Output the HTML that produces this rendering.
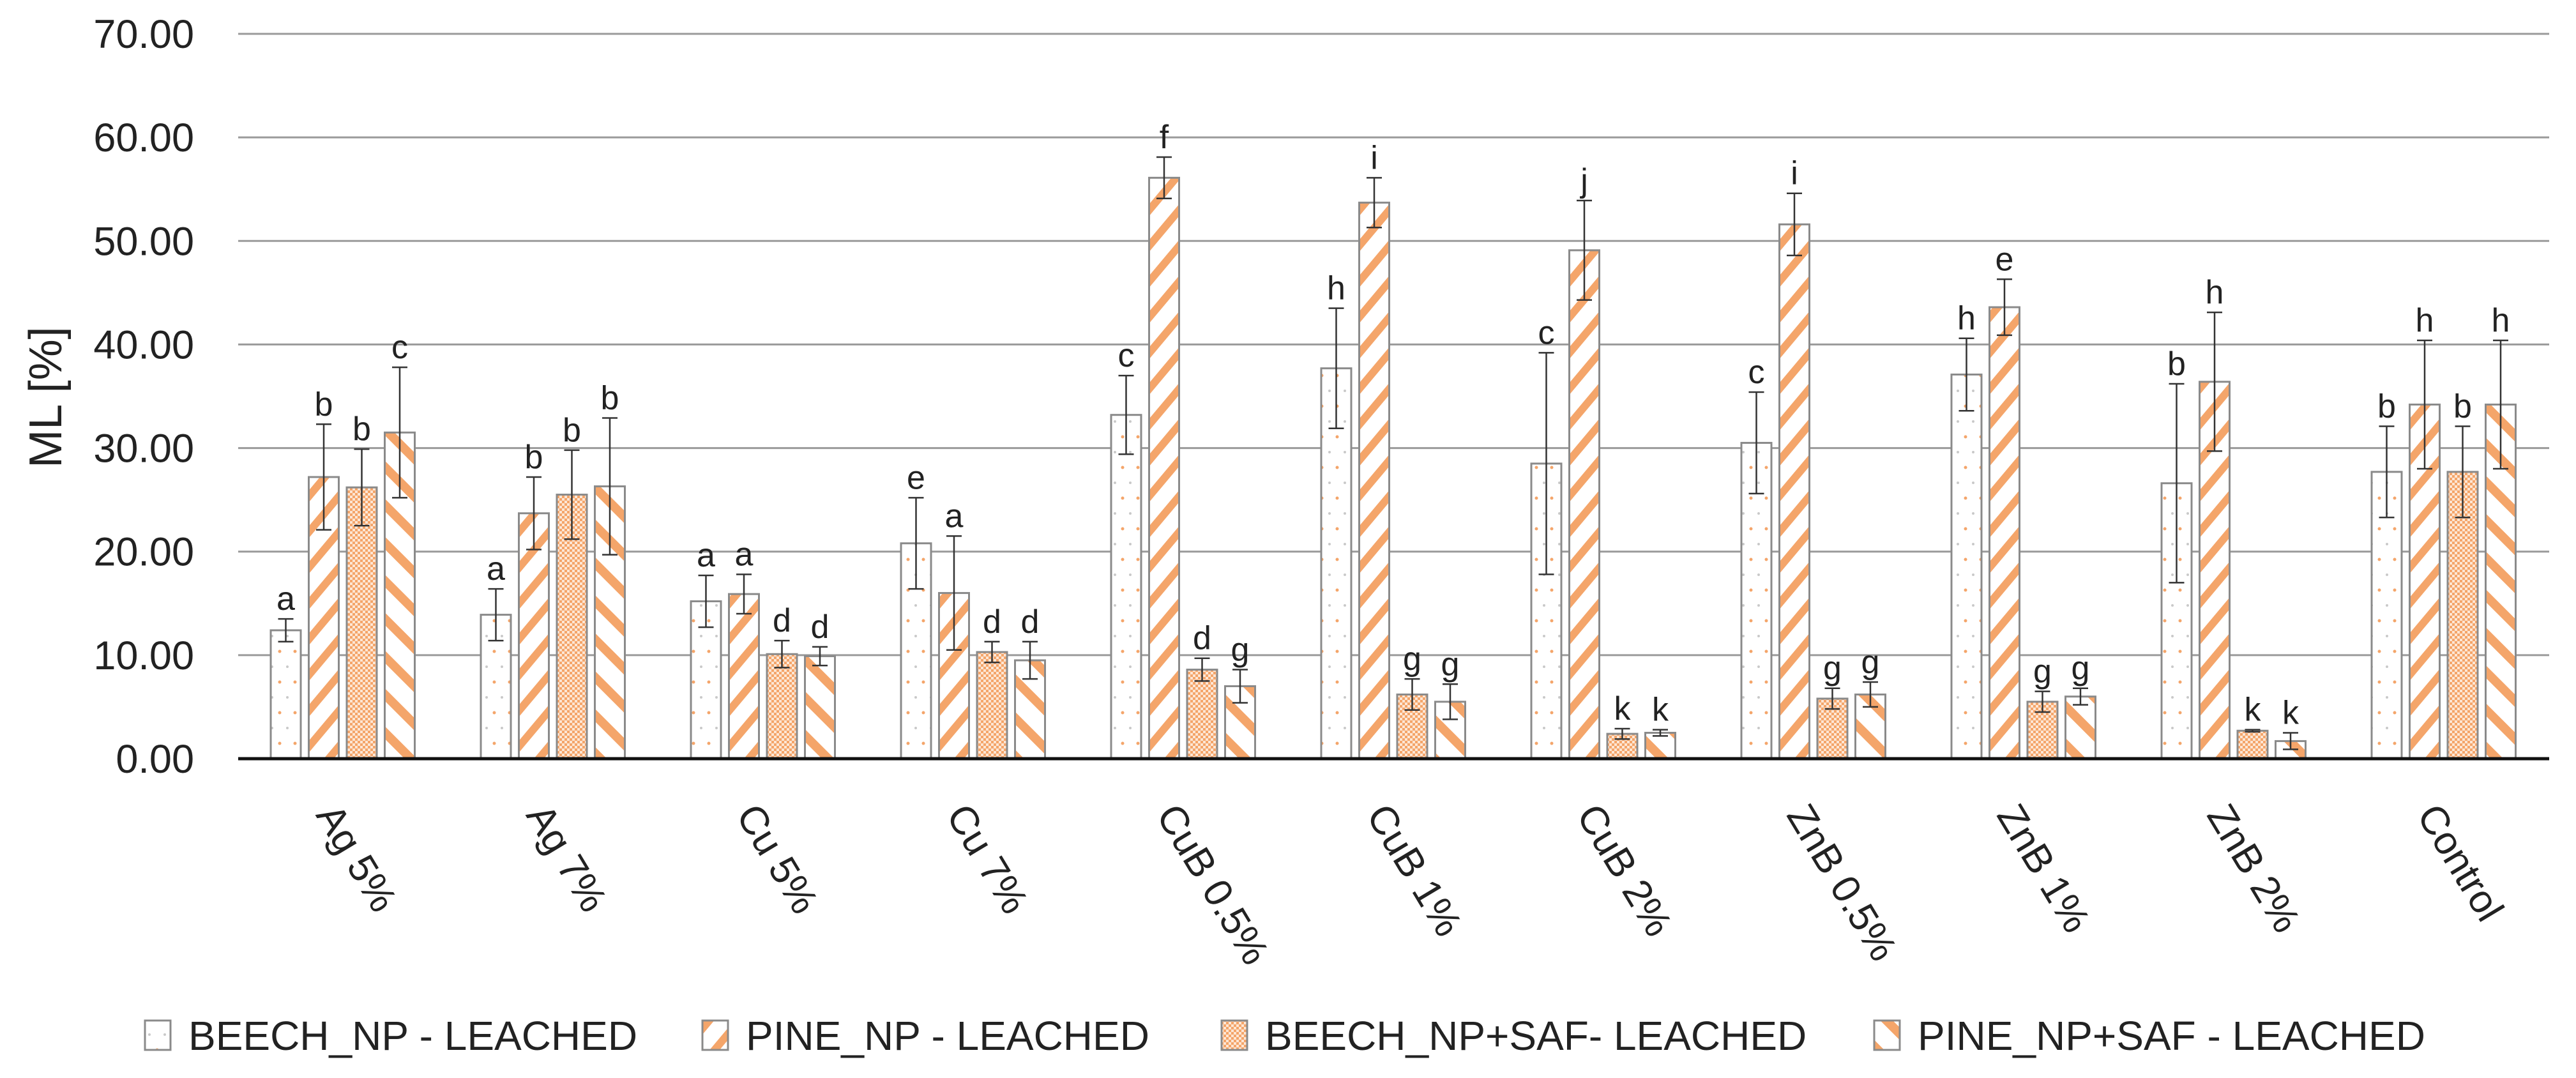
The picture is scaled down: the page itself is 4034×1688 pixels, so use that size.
<!DOCTYPE html>
<html><head><meta charset="utf-8">
<style>
html,body{margin:0;padding:0;background:#fff;}
svg{display:block;font-family:"Liberation Sans",sans-serif;}
</style></head>
<body>
<svg id="chart" xmlns="http://www.w3.org/2000/svg" width="4034" height="1688" viewBox="0 0 4034 1688">
<defs>
 <pattern id="p-dots" patternUnits="userSpaceOnUse" width="24" height="48">
  <rect width="24" height="48" fill="#fff"/>
  <circle cx="6" cy="12" r="2.5" fill="#f4a56a"/>
  <circle cx="18" cy="36" r="2" fill="#c9c9c9"/>
 </pattern>
 <pattern id="p-fwd" patternUnits="userSpaceOnUse" width="36" height="36" patternTransform="rotate(-50)">
  <rect width="36" height="36" fill="#fff"/>
  <rect width="36" height="12" fill="#f4a56a"/>
 </pattern>
 <pattern id="p-check" patternUnits="userSpaceOnUse" width="8" height="8">
  <rect width="8" height="8" fill="#fde6d4"/>
  <rect width="4" height="4" fill="#f4a56a"/>
  <rect x="4" y="4" width="4" height="4" fill="#f4a56a"/>
 </pattern>
 <pattern id="p-back" patternUnits="userSpaceOnUse" width="42" height="42" patternTransform="rotate(45)">
  <rect width="42" height="42" fill="#fff"/>
  <rect width="42" height="14" fill="#f4a56a"/>
 </pattern>
</defs>
<g id="grid"></g>
<g id="bars"></g>
<g id="xlabels"></g>
<text x="0" y="0" transform="translate(96,622) rotate(-90)" text-anchor="middle" font-size="72" fill="#222">ML [%]</text>
<g id="legend"></g>
</svg>
<script>
const categories = ["Ag 5%","Ag 7%","Cu 5%","Cu 7%","CuB 0.5%","CuB 1%","CuB 2%","ZnB 0.5%","ZnB 1%","ZnB 2%","Control"];
const seriesNames = ["BEECH_NP - LEACHED","PINE_NP - LEACHED","BEECH_NP+SAF- LEACHED","PINE_NP+SAF - LEACHED"];
const beechNP = [12.4,13.9,15.2,20.8,33.2,37.7,28.5,30.5,37.1,26.6,27.7];
const pineNP = [27.2,23.7,15.9,16.0,56.1,53.7,49.1,51.6,43.6,36.4,34.2];
const beechSAF = [26.2,25.5,10.1,10.3,8.6,6.2,2.4,5.8,5.5,2.7,27.7];
const pineSAF = [31.5,26.3,9.9,9.5,7.0,5.5,2.5,6.2,6.0,1.7,34.2];
const beechNPErr = [1.1,2.5,2.5,4.4,3.8,5.8,10.7,4.9,3.5,9.6,4.4];
const pineNPErr = [5.1,3.5,1.9,5.5,2.0,2.4,4.8,3.0,2.7,6.7,6.2];
const beechSAFErr = [3.7,4.3,1.3,1.0,1.1,1.5,0.5,1.0,1.0,0.1,4.4];
const pineSAFErr = [6.3,6.6,0.9,1.8,1.6,1.7,0.3,1.2,0.8,0.8,6.2];
const beechNPLetters = ["a","a","a","e","c","h","c","c","h","b","b"];
const pineNPLetters = ["b","b","a","a","f","i","j","i","e","h","h"];
const beechSAFLetters = ["b","b","d","d","d","g","k","g","g","k","b"];
const pineSAFLetters = ["c","b","d","d","g","g","k","g","g","k","h"];
const yTicks = [0,10,20,30,40,50,60,70];
const yTickLabels = ["0.00","10.00","20.00","30.00","40.00","50.00","60.00","70.00"];

const NS="http://www.w3.org/2000/svg";
const X0=373, X1=3992, Y0=1188, Y70=53, YMAX=70;
const groupW=(X1-X0)/categories.length;
const barW=47, barPitch=59.5, barOff=51;
function y(v){return Y0-(v/YMAX)*(Y0-Y70);}
function xBar(g,s){return X0+g*groupW+barOff+s*barPitch;}
function mk(tag,attrs,parent){const e=document.createElementNS(NS,tag);for(const k in attrs)e.setAttribute(k,attrs[k]);parent.appendChild(e);return e;}

const grid=document.getElementById('grid');
yTicks.forEach((t,i)=>{
  if(t>0){
    const l=mk('line',{x1:X0,x2:X1,y1:y(t),y2:y(t),stroke:'#9a9a9a','stroke-width':3},grid);
    
    
  }
  const tx=mk('text',{x:304,y:y(t)+22,'text-anchor':'end','font-size':63,fill:'#222'},grid);
  tx.textContent=yTickLabels[i];
  
  
});

const series=[beechNP,pineNP,beechSAF,pineSAF];
const errs=[beechNPErr,pineNPErr,beechSAFErr,pineSAFErr];
const letters=[beechNPLetters,pineNPLetters,beechSAFLetters,pineSAFLetters];
const fills=['url(#p-dots)','url(#p-fwd)','url(#p-check)','url(#p-back)'];
const bars=document.getElementById('bars');
categories.forEach((c,g)=>{
  series.forEach((vals,s)=>{
    const v=vals[g], x=xBar(g,s);
    const r=mk('rect',{x:x,y:y(v),width:barW,height:Y0-y(v),fill:fills[s],stroke:'#8a8a8a','stroke-width':3},bars);
    
    
    const e=errs[s][g], cx=x+barW/2, yt=y(v+e), yb=y(Math.max(0,v-e));
    const eg=mk('g',{stroke:'#333','stroke-width':2.5},bars);
    
    
    mk('line',{x1:cx,x2:cx,y1:yt,y2:yb},eg);
    mk('line',{x1:cx-12,x2:cx+12,y1:yt,y2:yt},eg);
    mk('line',{x1:cx-12,x2:cx+12,y1:yb,y2:yb},eg);
    const lt=mk('text',{x:cx,y:yt-14,'text-anchor':'middle','font-size':52,fill:'#222'},bars);
    lt.textContent=letters[s][g];
    
    
  });
});
const ax=mk('line',{x1:X0,x2:X1,y1:Y0,y2:Y0,stroke:'#111','stroke-width':5},bars);



const xl=document.getElementById('xlabels');
categories.forEach((c,g)=>{
  const cx=X0+(g+0.5)*groupW-44;
  const t=mk('text',{x:0,y:0,transform:'translate('+cx+',1276) rotate(59)','font-size':62,fill:'#222'},xl);
  t.textContent=c;
  
  
});

const lg=document.getElementById('legend');
const legX=[227,1100,1913,2935];
seriesNames.forEach((n,i)=>{
  const g=mk('g',{},lg);
  
  
  mk('rect',{x:legX[i],y:1598,width:40,height:46,fill:fills[i],stroke:'#8a8a8a','stroke-width':3},g);
  const t=mk('text',{x:legX[i]+68,y:1644,'font-size':64,fill:'#222'},g);
  t.textContent=n;
});
</script>
</body></html>
